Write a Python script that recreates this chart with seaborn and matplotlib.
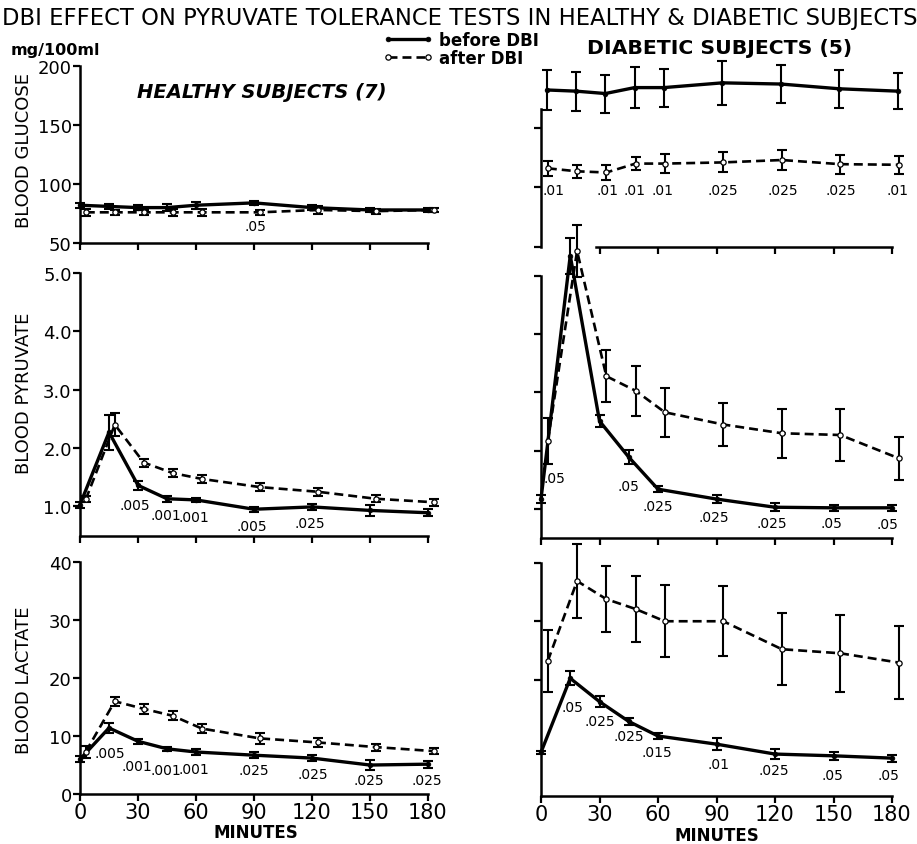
import numpy as np
import pandas as pd
import matplotlib
matplotlib.use("Agg")
import matplotlib.pyplot as plt
import seaborn as sns

# ---------------- data ----------------
minutes = [0, 15, 30, 45, 60, 90, 120, 150, 180]
minute_ticks = [0, 30, 60, 90, 120, 150, 180]

# Healthy subjects (7)
healthy_glucose_before = [82, 81, 80, 80, 82, 84, 80, 78, 78]
healthy_glucose_before_err = [2, 2, 2, 3, 3, 2, 2, 2, 2]
healthy_glucose_after = [76, 76, 76, 76, 76, 76, 78, 77, 78]
healthy_glucose_after_err = [3, 2, 2, 3, 3, 2, 3, 2, 2]

healthy_pyruvate_before = [1.03, 2.27, 1.36, 1.13, 1.11, 0.95, 0.99, 0.93, 0.89]
healthy_pyruvate_before_err = [0.05, 0.30, 0.08, 0.05, 0.04, 0.04, 0.05, 0.10, 0.06]
healthy_pyruvate_after = [1.12, 2.40, 1.75, 1.57, 1.47, 1.33, 1.25, 1.13, 1.07]
healthy_pyruvate_after_err = [0.05, 0.20, 0.07, 0.07, 0.07, 0.07, 0.07, 0.06, 0.06]

healthy_lactate_before = [6.0, 11.4, 9.1, 7.8, 7.25, 6.7, 6.2, 5.0, 5.15]
healthy_lactate_before_err = [0.5, 0.8, 0.4, 0.4, 0.5, 0.5, 0.5, 0.8, 0.6]
healthy_lactate_after = [7.3, 16.0, 14.7, 13.5, 11.3, 9.6, 8.9, 8.1, 7.4]
healthy_lactate_after_err = [1.0, 0.8, 0.9, 0.8, 0.8, 0.9, 0.8, 0.6, 0.5]

# Diabetic subjects (5)
diabetic_glucose_before = [182, 181, 179, 184, 184, 188, 187, 183, 181]
diabetic_glucose_before_err = [16.5, 16.5, 16, 17, 16, 18.5, 16, 16, 15]
diabetic_glucose_after = [116, 113.5, 112.5, 120, 120, 121, 123, 119.5, 119]
diabetic_glucose_after_err = [6.5, 5.5, 6, 5.5, 8, 8.5, 8.5, 8, 7.5]

diabetic_pyruvate_before = [1.17, 5.35, 2.51, 1.89, 1.34, 1.17, 1.03, 1.02, 1.02]
diabetic_pyruvate_before_err = [0.07, 0.31, 0.10, 0.12, 0.05, 0.07, 0.07, 0.05, 0.05]
diabetic_pyruvate_after = [2.17, 5.43, 3.28, 3.03, 2.66, 2.45, 2.30, 2.27, 1.87]
diabetic_pyruvate_after_err = [0.40, 0.45, 0.45, 0.43, 0.42, 0.37, 0.42, 0.45, 0.37]

diabetic_lactate_before = [7.5, 20.2, 16.2, 12.8, 10.3, 8.9, 7.2, 6.9, 6.5]
diabetic_lactate_before_err = [0.3, 1.2, 1.0, 0.6, 0.6, 1.0, 0.8, 0.7, 0.6]
diabetic_lactate_after = [23.2, 36.9, 33.8, 32.1, 30.0, 30.0, 25.2, 24.5, 22.9]
diabetic_lactate_after_err = [5.3, 6.3, 5.7, 5.7, 6.2, 6.0, 6.2, 6.6, 6.3]

# significance (p) labels
healthy_glucose_p = [".05"]
healthy_pyruvate_p = [".005", ".001", ".001", ".005", ".025"]
healthy_lactate_p = [".005", ".001", ".001", ".001", ".025", ".025", ".025", ".025"]
diabetic_glucose_p = [".01", ".01", ".01", ".01", ".025", ".025", ".025", ".01"]
diabetic_pyruvate_p = [".05", ".05", ".025", ".025", ".025", ".05", ".05"]
diabetic_lactate_p = [".05", ".025", ".025", ".015", ".01", ".025", ".05", ".05"]

# ---------------- layout (positions of p labels, in data units) ----------------
hg_p_x, hg_p_y = [90.7], [64.4]
hp_p_x = [28.5, 44.5, 59, 89, 119]
hp_p_y = [1.03, 0.85, 0.81, 0.67, 0.71]
hl_p_x = [15.6, 29.4, 44.5, 58.8, 90, 120.2, 149.6, 179.4]
hl_p_y = [7.15, 4.86, 4.2, 4.3, 4.2, 3.45, 2.45, 2.45]
dg_p_x = [6.2, 34, 48, 62.5, 93, 124, 153.7, 183]
dg_p_y = [97.7] * 8
dp_p_x = [6.8, 44.8, 59.7, 88.4, 118.3, 149, 177.6]
dp_p_y = [1.54, 1.40, 1.05, 0.87, 0.76, 0.76, 0.74]
dl_p_x = [16.2, 30.3, 44.8, 59.3, 91, 119.5, 149.4, 178]
dl_p_y = [15.2, 12.8, 10.3, 7.6, 5.5, 4.5, 3.6, 3.6]

sns.set_style("ticks")
plt.rcParams["font.family"] = ["DejaVu Sans"]
plt.rcParams["text.color"] = "black"
plt.rcParams["axes.labelcolor"] = "black"
plt.rcParams["xtick.color"] = "black"
plt.rcParams["ytick.color"] = "black"
plt.rcParams["xtick.labelcolor"] = "black"
plt.rcParams["ytick.labelcolor"] = "black"

W, H = 917, 845
fig = plt.figure(figsize=(W / 100, H / 100), dpi=100)


def rect(x0, x1, ytop, ybot):
    return [x0 / W, 1 - ybot / H, (x1 - x0) / W, (ybot - ytop) / H]


ax_hg = fig.add_axes(rect(80, 428, 67, 244))
ax_hp = fig.add_axes(rect(80, 428, 274, 536.5))
ax_hl = fig.add_axes(rect(80, 428, 563.3, 795))
ax_dg = fig.add_axes(rect(541, 892, 69.6, 247.7))
ax_dp = fig.add_axes(rect(541, 892, 277, 539.1))
ax_dl = fig.add_axes(rect(541, 892, 564, 797))

DASH = (0, (3.4, 1.9))


def draw_series(ax, y, e, kind, offset):
    x = np.asarray(minutes, float) + offset
    if kind == "before":
        sns.lineplot(x=x, y=y, ax=ax, color="black", lw=2.4, marker="o",
                     markersize=3.4, markeredgecolor="black", markeredgewidth=0.5,
                     label="before DBI", legend=False, clip_on=False, zorder=3)
    else:
        sns.lineplot(x=x, y=y, ax=ax, color="black", lw=1.9, linestyle=DASH,
                     marker="o", markersize=3.8, markerfacecolor="white",
                     markeredgecolor="black", markeredgewidth=0.9,
                     label="after DBI", legend=False, clip_on=False, zorder=4)
    eb = ax.errorbar(x, y, yerr=e, fmt="none", ecolor="black", elinewidth=1.5,
                     capsize=3.3, capthick=1.5, zorder=2)
    for a in eb.lines[1]:
        a.set_clip_on(False)
    for a in eb.lines[2]:
        a.set_clip_on(False)


panels = [
    (ax_hg, healthy_glucose_before, healthy_glucose_before_err, healthy_glucose_after, healthy_glucose_after_err, 0, 3),
    (ax_hp, healthy_pyruvate_before, healthy_pyruvate_before_err, healthy_pyruvate_after, healthy_pyruvate_after_err, 0, 3),
    (ax_hl, healthy_lactate_before, healthy_lactate_before_err, healthy_lactate_after, healthy_lactate_after_err, 0, 3),
    (ax_dg, diabetic_glucose_before, diabetic_glucose_before_err, diabetic_glucose_after, diabetic_glucose_after_err, 3, 3.5),
    (ax_dp, diabetic_pyruvate_before, diabetic_pyruvate_before_err, diabetic_pyruvate_after, diabetic_pyruvate_after_err, 0, 3.5),
    (ax_dl, diabetic_lactate_before, diabetic_lactate_before_err, diabetic_lactate_after, diabetic_lactate_after_err, 0, 3.5),
]
for ax, yb, eb_, ya, ea, ob, oa in panels:
    draw_series(ax, yb, eb_, "before", ob)
    draw_series(ax, ya, ea, "after", oa)

limits = {ax_hg: (50, 200), ax_dg: (50, 200), ax_hp: (0.5, 5.0), ax_dp: (0.5, 5.0),
          ax_hl: (0, 40), ax_dl: (0, 40)}
yticks = {ax_hg: [50, 100, 150, 200], ax_dg: [50, 100, 150],
          ax_hp: [1, 2, 3, 4, 5], ax_dp: [1, 2, 3, 4, 5],
          ax_hl: [0, 10, 20, 30, 40], ax_dl: [20, 30, 40]}

for ax in [ax_hg, ax_hp, ax_hl, ax_dg, ax_dp, ax_dl]:
    sns.despine(ax=ax)
    ax.set_xlim(0, 180)
    ax.set_ylim(*limits[ax])
    ax.set_yticks(yticks[ax])
    ax.set_xticks(minute_ticks)
    ax.set_xlabel("")
    ax.set_ylabel("")
    ax.patch.set_alpha(0)
    for s in ["left", "bottom"]:
        ax.spines[s].set_linewidth(1.8)
        ax.spines[s].set_color("black")
    ax.tick_params(axis="both", direction="out", length=5, width=1.6, color="black",
                   labelsize=13, pad=1, labelcolor="black")

for ax in [ax_hg, ax_hp, ax_dg, ax_dp]:
    ax.tick_params(axis="x", labelbottom=False)
for ax in [ax_dg, ax_dp, ax_dl]:
    ax.tick_params(axis="y", labelleft=False)

ax_dg.spines["bottom"].set_bounds(28, 180)
ax_dg.set_xticks(minute_ticks[1:])
ax_dg.spines["left"].set_bounds(50, 166)

ax_hg.set_yticklabels(["50", "100", "150", "200"])
ax_hp.set_yticklabels(["1.0", "2.0", "3.0", "4.0", "5.0"])
ax_hl.set_yticklabels(["0", "10", "20", "30", "40"])
for ax in [ax_hl, ax_dl]:
    ax.set_xticklabels([str(m) for m in minute_ticks])
    for lab in ax.get_xticklabels():
        lab.set_fontsize(15)

# p labels
for ax, labs, xs, ys in [(ax_hg, healthy_glucose_p, hg_p_x, hg_p_y),
                         (ax_hp, healthy_pyruvate_p, hp_p_x, hp_p_y),
                         (ax_hl, healthy_lactate_p, hl_p_x, hl_p_y),
                         (ax_dg, diabetic_glucose_p, dg_p_x, dg_p_y),
                         (ax_dp, diabetic_pyruvate_p, dp_p_x, dp_p_y),
                         (ax_dl, diabetic_lactate_p, dl_p_x, dl_p_y)]:
    for s, xx, yy in zip(labs, xs, ys):
        ax.text(xx, yy, s, ha="center", va="center", fontsize=10, clip_on=False)

# texts
fig.text(460 / W, 1 - 18.5 / H, "DBI EFFECT ON PYRUVATE TOLERANCE TESTS IN HEALTHY & DIABETIC SUBJECTS",
         ha="center", va="center", fontsize=16.3)
fig.text(55 / W, 1 - 50 / H, "mg/100ml", ha="center", va="center", fontsize=11.5, fontweight="bold")
fig.text(262 / W, 1 - 92 / H, "HEALTHY SUBJECTS (7)", ha="center", va="center",
         fontsize=14, fontweight="bold", fontstyle="italic")
fig.text(720 / W, 1 - 48 / H, "DIABETIC SUBJECTS (5)", ha="center", va="center",
         fontsize=14.7, fontweight="bold")
for txt, yc in [("BLOOD GLUCOSE", 150), ("BLOOD PYRUVATE", 393), ("BLOOD LACTATE", 680)]:
    fig.text(24 / W, 1 - yc / H, txt, rotation=90, ha="center", va="center", fontsize=13)
fig.text(256 / W, 1 - 833 / H, "MINUTES", ha="center", va="center", fontsize=12, fontweight="bold")
fig.text(717 / W, 1 - 836 / H, "MINUTES", ha="center", va="center", fontsize=12, fontweight="bold")

handles, labels = ax_hg.get_legend_handles_labels()
fig.legend(handles, labels, loc="upper left", bbox_to_anchor=(383 / W, 1 - 31.5 / H),
           frameon=False, numpoints=2, handlelength=3.0, handletextpad=0.35,
           labelspacing=0.0, borderpad=0, borderaxespad=0,
           prop={"weight": "bold", "size": 12})

fig.savefig("out.png", dpi=100)
